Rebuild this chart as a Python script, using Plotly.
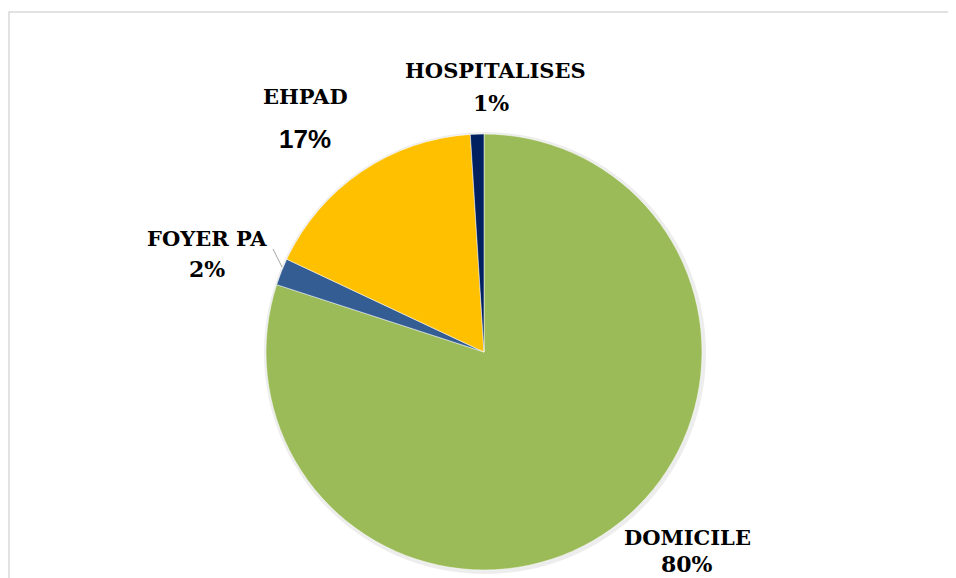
import plotly.graph_objects as go

# Data
categories = ["DOMICILE", "FOYER PA", "EHPAD", "HOSPITALISES"]
values = [80, 2, 17, 1]
colors = ["#9BBB59", "#335D93", "#FFC000", "#002060"]
pct_labels = ["80%", "2%", "17%", "1%"]

# the page puts the figure 8px in from the top-left corner
OFF = 8
W, H = 956 - OFF, 578 - OFF


def px_x(x):
    return (x - OFF) / W


def px_y(y):
    return 1 - (y - OFF) / H


# pie placement (screen pixels): center (484, 352), radius 218
cx, cy, r = 484, 352, 218

fig = go.Figure()

# soft shadow behind the pie
fig.add_trace(go.Pie(
    values=values,
    sort=False,
    direction="clockwise",
    rotation=0,
    marker=dict(colors=["rgba(0,0,0,0.07)"] * len(values), line=dict(width=0)),
    textinfo="none",
    hoverinfo="skip",
    showlegend=False,
    domain=dict(x=[px_x(cx - r - 2), px_x(cx + r + 4)],
                y=[px_y(cy + r + 4), px_y(cy - r - 2)]),
))

fig.add_trace(go.Pie(
    labels=categories,
    values=values,
    sort=False,
    direction="clockwise",
    rotation=0,
    marker=dict(colors=colors, line=dict(color="white", width=0.5)),
    textinfo="none",
    showlegend=False,
    domain=dict(x=[px_x(cx - r), px_x(cx + r)], y=[px_y(cy + r), px_y(cy - r)]),
))

serif = "DejaVu Serif, Liberation Serif, serif"
sans = "Liberation Sans, Arial, sans-serif"

# label positions (screen pixels) for name and percentage
label_pos = {
    "DOMICILE": ((687, 537), (687, 564), serif),
    "FOYER PA": ((207, 239), (207, 269), serif),
    "EHPAD": ((305, 96), (305, 139), sans),
    "HOSPITALISES": ((495, 70), (491, 103), serif),
}

annotations = []
for cat, pct in zip(categories, pct_labels):
    (nx, ny), (vx, vy), pfont = label_pos[cat]
    annotations.append(dict(
        x=px_x(nx), y=px_y(ny), xref="paper", yref="paper",
        text=f"<b>{cat}</b>", showarrow=False,
        font=dict(family=serif, size=21, color="#000000"),
        xanchor="center", yanchor="middle",
    ))
    annotations.append(dict(
        x=px_x(vx), y=px_y(vy), xref="paper", yref="paper",
        text=f"<b>{pct}</b>", showarrow=False,
        font=dict(family=pfont, size=26 if pfont == sans else 22, color="#000000"),
        xanchor="center", yanchor="middle",
    ))

shapes = [
    # chart frame (extends past the right and bottom edges)
    dict(type="rect", xref="paper", yref="paper",
         x0=px_x(9), x1=px_x(1000), y0=px_y(620), y1=px_y(12),
         line=dict(color="#D9D9D9", width=1.5), fillcolor="rgba(0,0,0,0)"),
    # leader line for FOYER PA
    dict(type="line", xref="paper", yref="paper",
         x0=px_x(273), y0=px_y(249), x1=px_x(282), y1=px_y(267),
         line=dict(color="#A6A6A6", width=1)),
]

fig.update_layout(
    width=W,
    height=H,
    margin=dict(l=0, r=0, t=0, b=0),
    paper_bgcolor="white",
    plot_bgcolor="white",
    annotations=annotations,
    shapes=shapes,
)

fig.write_html("out.html")
